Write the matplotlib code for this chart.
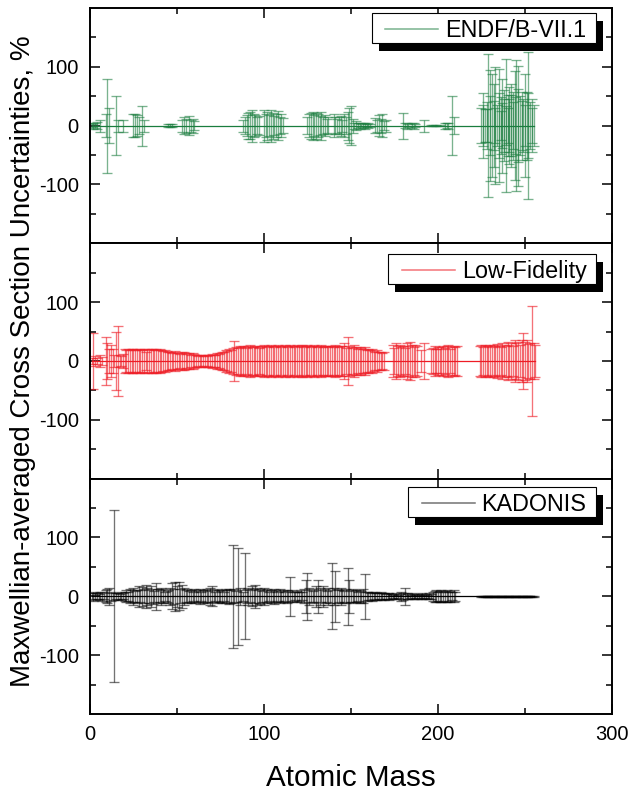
import matplotlib
matplotlib.use("Agg")
import matplotlib.pyplot as plt
from matplotlib.lines import Line2D
from matplotlib.patches import Rectangle
from matplotlib.ticker import FixedLocator
from matplotlib.transforms import offset_copy
import numpy as np

plt.rcParams['font.family'] = ['Liberation Sans', 'DejaVu Sans']
plt.rcParams['axes.unicode_minus'] = False

# ---------------- data ----------------
endf_mass = [1, 2, 3, 4, 6, 9, 10, 11, 15, 16, 19, 25, 26, 27, 28, 30, 31, 45, 46, 47,
             53, 54, 55, 57, 58, 59, 60,
             88, 89, 90, 91, 92, 93, 94, 95, 96, 97,
             100, 101, 102, 103, 104, 105, 106, 107, 108, 109, 110, 111,
             125, 126, 127, 128, 129, 130, 131, 132, 133, 134, 135, 136, 137,
             140, 141, 142, 143, 144, 145, 146, 147, 148, 149, 150, 151, 152, 153, 154,
             155, 156, 157, 158, 159, 160, 161,
             164, 165, 166, 167, 168, 169, 170,
             180, 181, 182, 183, 185, 186, 187, 192, 196, 197, 199, 201, 204, 205, 206, 208, 209,
             225, 226, 227, 228, 229, 230, 231, 232, 233, 234, 235, 236, 237, 238, 239, 240,
             241, 242, 243, 244, 245, 246, 247, 248, 249, 250, 251, 252, 253, 254, 255,
             226, 228, 230, 232, 233, 235, 236, 237, 238, 239, 240, 241, 242, 243, 244,
             246, 248, 250, 252, 254]
endf_unc = [2, 5, 4, 6, 10, 20, 80, 30, 50, 10, 10, 19, 20, 18, 15, 34, 10, 2, 3, 2,
            10, 14, 12, 16, 10, 12, 8,
            10, 14, 18, 22, 23, 27, 20, 18, 14, 16,
            27, 20, 24, 18, 27, 22, 16, 20, 25, 14, 20, 13,
            15, 20, 22, 24, 18, 22, 20, 16, 24, 14, 18, 12, 14,
            20, 14, 12, 14, 17, 10, 20, 15, 24, 30, 33, 12, 5, 8, 4,
            5, 3, 4, 5, 3, 4, 2,
            13, 10, 18, 12, 20, 8, 10,
            22, 4, 5, 3, 4, 5, 3, 10, 1, 1, 1, 1, 5, 4, 5, 50, 14,
            30, 55, 28, 40, 122, 94, 88, 70, 100, 35, 96, 25, 80, 45, 113, 30,
            65, 52, 40, 93, 111, 102, 50, 58, 45, 35, 58, 125, 40, 30, 35,
            35, 28, 50, 42, 30, 55, 48, 38, 60, 33, 52, 45, 70, 58, 48,
            62, 42, 88, 55, 45]

lf_mass = ([1, 2, 3, 4, 6, 7, 9, 10, 11, 12, 13, 14, 15, 16, 17, 18, 19]
           + list(range(20, 44)) + list(range(44, 61)) + list(range(61, 75))
           + list(range(75, 83)) + list(range(83, 146)) + list(range(146, 170))
           + list(range(174, 189)) + [190, 192] + list(range(196, 212))
           + list(range(224, 257)))
lf_unc = ([5, 48, 8, 5, 10, 6, 40, 30, 20, 28, 20, 10, 49, 59, 10, 8, 12]
          + [20, 18, 20, 19, 20, 20, 18, 20, 19, 20, 18, 20, 16, 20, 19, 20, 20, 18, 20, 19, 20, 18, 17, 19]
          + [17, 16, 15, 14, 15, 17, 13, 14, 12, 15, 16, 13, 12, 14, 11, 13, 12]
          + [10, 9, 11, 10, 8, 10, 9, 11, 10, 12, 10, 11, 13, 12]
          + [14, 16, 15, 18, 17, 20, 19, 22]
          + [34, 24, 22, 25, 23, 26, 24, 22, 25, 27, 24, 23, 26, 25, 22, 24, 26, 27, 25, 23, 26,
             28, 25, 24, 26, 27, 25, 23, 26, 28, 25, 24, 27, 25, 26, 24, 27, 25, 26, 28, 24, 25,
             27, 26, 24, 25, 27, 26, 23, 25, 27, 24, 26, 25, 23, 26, 25, 24, 27, 25, 24, 26, 25]
          + [30, 22, 41, 25, 24, 22, 27, 23, 21, 24, 22, 20, 23, 19, 21, 18, 20, 17, 16, 18, 15, 16, 14, 16]
          + [27, 22, 30, 25, 28, 24, 26, 22, 30, 25, 33, 27, 24, 28, 25]
          + [18, 30]
          + [20, 22, 25, 21, 24, 20, 23, 26, 22, 25, 27, 21, 24, 26, 23, 25]
          + [25, 28, 24, 27, 25, 26, 28, 24, 27, 25, 29, 26, 24, 30, 27, 25, 33, 28, 31, 26, 35,
             30, 33, 28, 36, 47, 32, 35, 29, 30, 93, 31, 28])

kad_mass = list(range(1, 211)) + list(range(225, 256))
kad_unc = ([5, 8, 6, 5, 4, 7, 8, 5, 10, 12, 15, 8, 6, 146, 5, 6, 4, 7, 5, 8,
            10, 8, 12, 10, 14, 9, 11, 18, 10, 16, 12, 20, 14, 11, 18, 13, 9, 23, 12, 10, 14, 12, 8, 9, 11,
            15, 22, 13, 25, 18, 24, 12, 20, 14, 10, 12, 9, 11, 8, 12, 10, 9, 13, 8, 11, 10, 12, 9, 14, 17,
            10, 8, 12, 10, 9, 11, 8, 12, 10, 13, 11,
            88, 12, 9, 82, 14, 10, 8, 73, 12, 15, 10, 17, 12, 20, 15, 11, 13, 9, 15, 10, 12, 8, 11, 9,
            13, 10, 8, 12, 9, 10, 8, 11, 9, 33, 10, 8, 7, 9, 8, 10, 7, 12, 28, 40, 15, 10, 9, 12, 18,
            28, 14, 10, 18, 12, 9, 15, 11, 56, 14, 43, 12, 10, 14, 11, 9, 12, 49, 28, 10, 12, 9, 10, 8,
            11, 9, 12, 38, 8, 7, 6, 8, 5, 7, 6, 5, 7, 5, 6, 4, 5, 6, 4, 3, 4, 5, 3, 4, 8, 6, 15, 5, 4,
            3, 5, 4, 3, 4, 3, 4, 5, 3, 4, 3, 5, 4, 8, 9, 10, 8, 9, 10, 8, 9, 10, 8, 9, 7, 10, 8]
           + [0.5] * 31)

series_names = ["ENDF/B-VII.1", "Low-Fidelity", "KADONIS"]
series_colors = ["#1a7d3e", "#ee1c25", "#000000"]
series_alpha = [0.58, 0.62, 0.55]

x_label = "Atomic Mass"
y_label = "Maxwellian-averaged Cross Section Uncertainties, %"

# ---------------- figure ----------------
fig = plt.figure(figsize=(6.29, 7.96), dpi=100)
axes = fig.subplots(3, 1, sharex=True, gridspec_kw=dict(hspace=0))
fig.subplots_adjust(left=0.143, right=0.973, top=0.99, bottom=0.103)

data = [(endf_mass, endf_unc), (lf_mass, lf_unc), (kad_mass, kad_unc)]

for ax, (m, u), col, al in zip(axes, data, series_colors, series_alpha):
    m = np.asarray(m, float)
    u = np.asarray(u, float)
    z = np.zeros_like(m)
    ax.errorbar(m, z, yerr=u, fmt='none', ecolor=col, elinewidth=0.95,
                capsize=3.6, capthick=0.95, alpha=al, zorder=2)
    order = np.argsort(m)
    ax.plot(m[order], z[order], color=col, lw=0.9, zorder=3)
    ax.set_xlim(0, 300)
    ax.set_ylim(-200, 200)
    ax.yaxis.set_major_locator(FixedLocator([-100, 0, 100]))
    ax.yaxis.set_minor_locator(FixedLocator([-150, -50, 50, 150]))
    ax.xaxis.set_major_locator(FixedLocator([0, 100, 200, 300]))
    ax.xaxis.set_minor_locator(FixedLocator([50, 150, 250]))
    ax.tick_params(which='both', direction='in', top=True, right=True,
                   labelsize=14.5, width=1.1, pad=8)
    ax.tick_params(which='major', length=7.5)
    ax.tick_params(which='minor', length=4.5)
    for sp in ax.spines.values():
        sp.set_linewidth(1.4)

axes[2].set_xlabel(x_label, fontsize=21.3, labelpad=14)
fig.text(0.036, 0.546, y_label, rotation=90, ha='center', va='center', fontsize=20)

# ---------------- legends with hard shadow (pixel layout) ----------------
fig.canvas.draw()
renderer = fig.canvas.get_renderer()
legend_top_offsets = [5.3, 11.0, 8.7]   # px below axes top
RIGHT_OFF = 16.0
BOX_H = 29.5
for ax, name, col, al, top_off in zip(axes, series_names, series_colors,
                                      series_alpha, legend_top_offsets):
    baseline = -top_off - BOX_H + 6.0
    tr = offset_copy(ax.transAxes, fig=fig, x=-RIGHT_OFF - 9.5, y=baseline, units='dots')
    txt = ax.text(1, 1, name, transform=tr, ha='right', va='baseline',
                  fontsize=16.8, zorder=8)
    bb = txt.get_window_extent(renderer)
    x1, y1 = ax.transAxes.transform((1, 1))
    box_r = x1 - RIGHT_OFF
    box_l = bb.x0 - 7.0 - 53.0 - 13.5
    box_t = y1 - top_off
    box_b = box_t - BOX_H
    inv = ax.transAxes.inverted()
    (a0, b0) = inv.transform((box_l, box_b))
    (a1, b1) = inv.transform((box_r, box_t))
    (s0, t0) = inv.transform((box_l + 7.0, box_b - 8.0))
    ax.add_patch(Rectangle((s0, t0), a1 - a0, b1 - b0, transform=ax.transAxes,
                           facecolor='black', edgecolor='none', zorder=6, clip_on=False))
    ax.add_patch(Rectangle((a0, b0), a1 - a0, b1 - b0, transform=ax.transAxes,
                           facecolor='white', edgecolor='black', lw=0.8, zorder=7,
                           clip_on=False))
    (h0, hy) = inv.transform((box_l + 13.5, (box_t + box_b) / 2 - 1.0))
    (h1, _) = inv.transform((box_l + 13.5 + 53.0, 0))
    ax.add_line(Line2D([h0, h1], [hy, hy], transform=ax.transAxes, color=col,
                       alpha=al, lw=1.1, zorder=8))

fig.savefig("out.png", dpi=100)
